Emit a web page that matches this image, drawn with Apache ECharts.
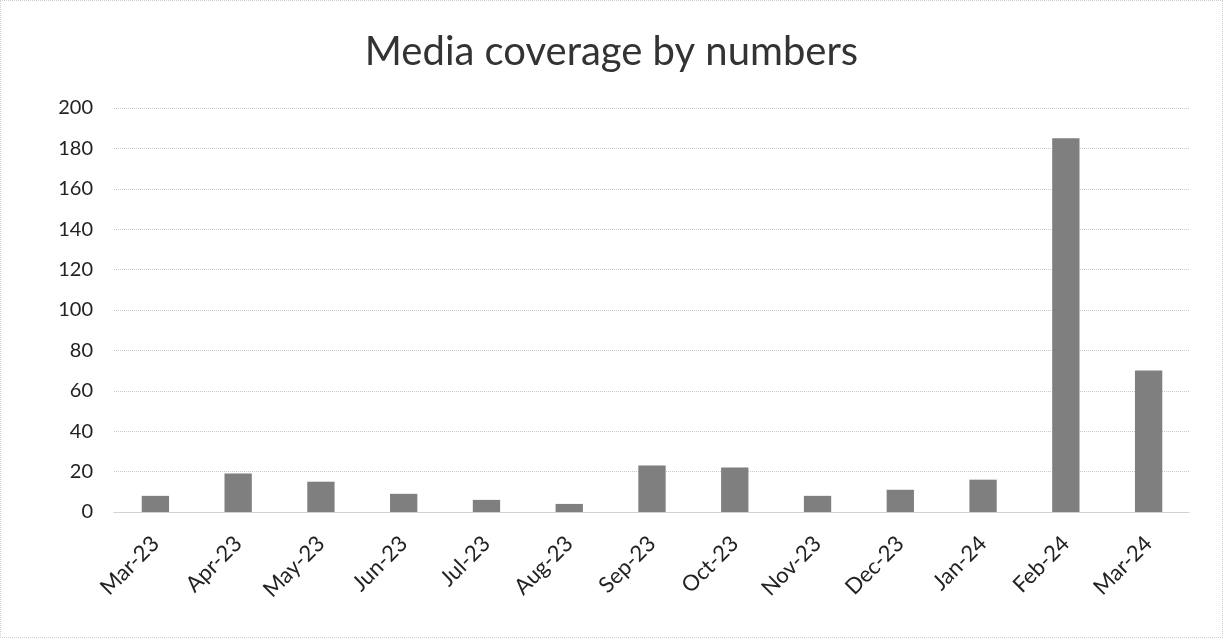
<!DOCTYPE html>
<html><head><meta charset="utf-8">
<script src="https://cdn.jsdelivr.net/npm/echarts@6/dist/echarts.min.js"></script>
<style>html,body{margin:0;padding:0;background:#fff}#c{width:1223px;height:638px;box-sizing:border-box;border:1px dotted #cfcfcf}</style>
</head><body><div id="c"></div>
<script>
const categories = ['Mar-23','Apr-23','May-23','Jun-23','Jul-23','Aug-23','Sep-23','Oct-23','Nov-23','Dec-23','Jan-24','Feb-24','Mar-24'];
const coverage = [8, 19, 15, 9, 6, 4, 23, 22, 8, 11, 16, 185, 70];
const yTicks = { min: 0, max: 200, interval: 20 };

const chart = echarts.init(document.getElementById('c'), null, {renderer: 'canvas'});
chart.setOption({
  animation: false,
  backgroundColor: '#fff',
  title: {
    text: 'Media coverage by numbers',
    left: 'center', top: 26,
    textStyle: { fontFamily: 'Lato', fontSize: 40, fontWeight: 'normal', color: '#333' }
  },
  grid: { left: 113, right: 32, top: 107, bottom: 125 },
  xAxis: {
    type: 'category',
    data: categories,
    axisLine: { show: true, lineStyle: { color: '#c8c8c8', type: 'dotted' } },
    axisTick: { show: false },
    axisLabel: { rotate: 45, margin: 28, fontFamily: 'Lato', fontSize: 22, color: '#222' }
  },
  yAxis: {
    type: 'value',
    min: yTicks.min, max: yTicks.max, interval: yTicks.interval,
    axisLine: { show: false },
    axisTick: { show: false },
    splitLine: { lineStyle: { color: '#c8c8c8', type: 'dotted' } },
    axisLabel: { margin: 21, fontFamily: 'Lato', fontSize: 20, color: '#222' }
  },
  series: [{
    type: 'bar',
    data: coverage,
    barWidth: '33%',
    itemStyle: { color: '#7f7f7f' }
  }]
});
</script></body></html>
